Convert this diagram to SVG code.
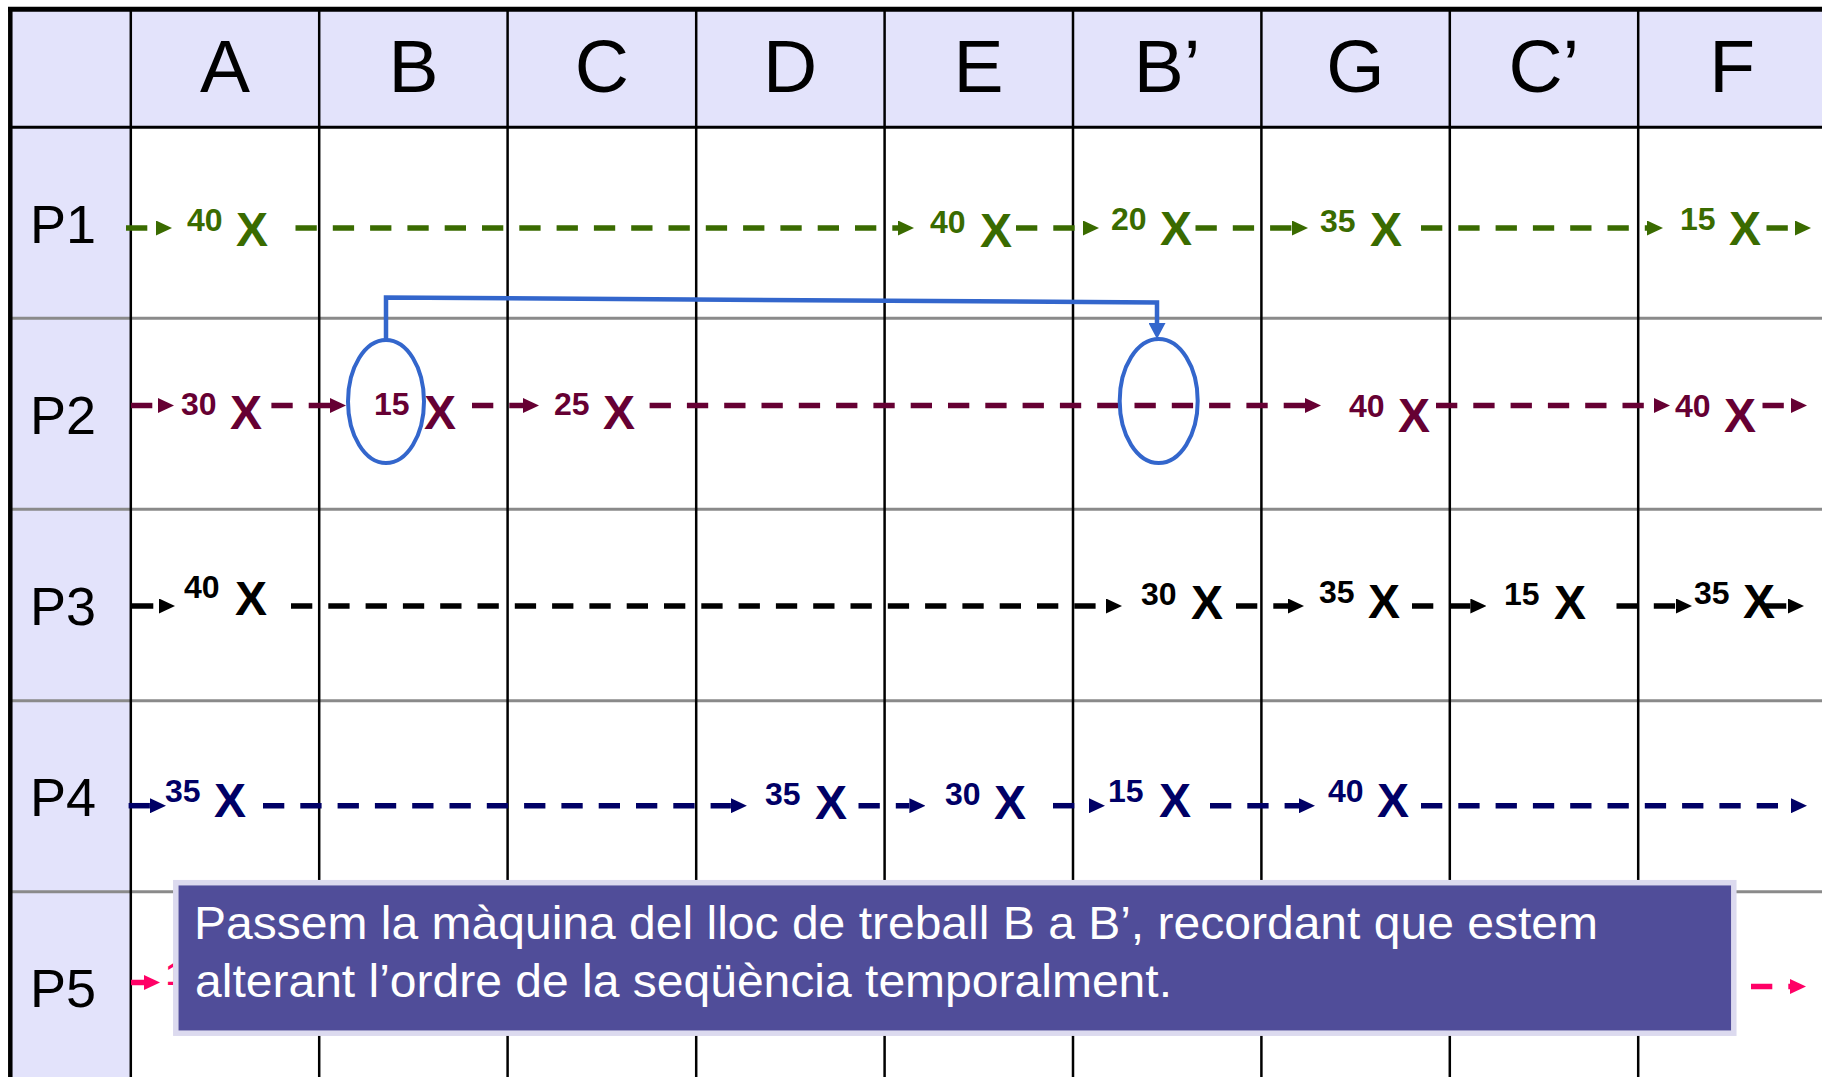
<svg xmlns="http://www.w3.org/2000/svg" width="1822" height="1077" viewBox="0 0 1822 1077">
<style>
.bgw{fill:#ffffff}
.hfill{fill:#E3E3FB}
.gv{stroke:#000;stroke-width:2.5}
.gh{stroke:#8a8a8a;stroke-width:3}
.border{stroke:#000;stroke-width:5}
.hdr{font-family:"Liberation Sans",Arial,sans-serif;font-size:75px;text-anchor:middle;fill:#000}
.plab{font-family:"Liberation Sans",Arial,sans-serif;font-size:54px;fill:#000}
.num{font-family:"Liberation Sans",Arial,sans-serif;font-weight:bold;font-size:32px}
.xx{font-family:"Liberation Sans",Arial,sans-serif;font-weight:bold;font-size:48px}
.flow{fill:none;stroke-width:5.5;stroke-dasharray:21.3 16}
.g{fill:#3A6B00;stroke:#3A6B00}
.m{fill:#660033;stroke:#660033}
.k{fill:#000;stroke:#000}
.n{fill:#000066;stroke:#000066}
.p{fill:#FF0066;stroke:#FF0066}
text.g,text.m,text.k,text.n,text.p{stroke:none}
.hl{fill:none;stroke:#3366CC;stroke-width:4}
.conn{fill:none;stroke:#3366CC;stroke-width:4.5}
.note{font-family:"Liberation Sans",Arial,sans-serif;font-size:46px;fill:#ffffff}
</style>
<defs>
<marker id="ag" markerUnits="userSpaceOnUse" markerWidth="16" markerHeight="15" viewBox="0 0 16 15" refX="0" refY="7.5" orient="auto"><path d="M0,0 L16,7.5 L0,15 z" fill="#3A6B00"/></marker>
<marker id="am" markerUnits="userSpaceOnUse" markerWidth="16" markerHeight="15" viewBox="0 0 16 15" refX="0" refY="7.5" orient="auto"><path d="M0,0 L16,7.5 L0,15 z" fill="#660033"/></marker>
<marker id="ak" markerUnits="userSpaceOnUse" markerWidth="16" markerHeight="15" viewBox="0 0 16 15" refX="0" refY="7.5" orient="auto"><path d="M0,0 L16,7.5 L0,15 z" fill="#000000"/></marker>
<marker id="an" markerUnits="userSpaceOnUse" markerWidth="16" markerHeight="15" viewBox="0 0 16 15" refX="0" refY="7.5" orient="auto"><path d="M0,0 L16,7.5 L0,15 z" fill="#000066"/></marker>
<marker id="ap" markerUnits="userSpaceOnUse" markerWidth="16" markerHeight="15" viewBox="0 0 16 15" refX="0" refY="7.5" orient="auto"><path d="M0,0 L16,7.5 L0,15 z" fill="#FF0066"/></marker>
<marker id="ab" markerUnits="userSpaceOnUse" markerWidth="16" markerHeight="17" viewBox="0 0 16 17" refX="0" refY="8.5" orient="auto"><path d="M0,0 L16,8.5 L0,17 z" fill="#3366CC"/></marker>
</defs>

<rect class="bgw" x="0" y="0" width="1822" height="1077"/>

<g id="table">
  <rect class="hfill" x="9" y="9" width="1813" height="118"/>
  <rect class="hfill" x="9" y="127" width="122" height="950"/>
  <g id="grid-rows">
    <line class="gh" x1="9" y1="318.3" x2="1822" y2="318.3"/>
    <line class="gh" x1="9" y1="509.3" x2="1822" y2="509.3"/>
    <line class="gh" x1="9" y1="700.7" x2="1822" y2="700.7"/>
    <line class="gh" x1="9" y1="891.7" x2="1822" y2="891.7"/>
  </g>
  <line x1="9" y1="127.3" x2="1822" y2="127.3" stroke="#000" stroke-width="3"/>
  <g id="grid-cols">
    <line class="gv" x1="130.8" y1="9" x2="130.8" y2="1077"/>
    <line class="gv" x1="319.2" y1="9" x2="319.2" y2="1077"/>
    <line class="gv" x1="507.6" y1="9" x2="507.6" y2="1077"/>
    <line class="gv" x1="696.2" y1="9" x2="696.2" y2="1077"/>
    <line class="gv" x1="884.6" y1="9" x2="884.6" y2="1077"/>
    <line class="gv" x1="1073" y1="9" x2="1073" y2="1077"/>
    <line class="gv" x1="1261.4" y1="9" x2="1261.4" y2="1077"/>
    <line class="gv" x1="1449.8" y1="9" x2="1449.8" y2="1077"/>
    <line class="gv" x1="1638.2" y1="9" x2="1638.2" y2="1077"/>
  </g>
  <line class="border" x1="8" y1="9.2" x2="1822" y2="9.2"/>
  <line x1="10.3" y1="7" x2="10.3" y2="1077" stroke="#000" stroke-width="4.5"/>
</g>

<g id="header">
  <text class="hdr" x="225" y="92">A</text>
  <text class="hdr" x="413.4" y="92">B</text>
  <text class="hdr" x="601.8" y="92">C</text>
  <text class="hdr" x="790.2" y="92">D</text>
  <text class="hdr" x="978.6" y="92">E</text>
  <text class="hdr" x="1167" y="92">B’</text>
  <text class="hdr" x="1355.4" y="92">G</text>
  <text class="hdr" x="1543.8" y="92">C’</text>
  <text class="hdr" x="1732.2" y="92">F</text>
</g>

<g id="row-labels">
  <text class="plab" x="30" y="243">P1</text>
  <text class="plab" x="30" y="433.5">P2</text>
  <text class="plab" x="30" y="625">P3</text>
  <text class="plab" x="30" y="816">P4</text>
  <text class="plab" x="30" y="1007">P5</text>
</g>

<g id="connectors">
  <g id="flow-P1" class="g">
    <line class="flow" x1="126" y1="228" x2="156" y2="228" marker-end="url(#ag)"/>
    <line class="flow" x1="295.5" y1="228" x2="898" y2="228" marker-end="url(#ag)"/>
    <line class="flow" x1="1016" y1="228" x2="1083" y2="228" marker-end="url(#ag)"/>
    <line class="flow" x1="1195.5" y1="228" x2="1292" y2="228" marker-end="url(#ag)"/>
    <line class="flow" x1="1421" y1="228" x2="1647" y2="228" marker-end="url(#ag)"/>
    <line class="flow" x1="1766.5" y1="228" x2="1795" y2="228" marker-end="url(#ag)"/>
  </g>
  <g id="flow-P2" class="m">
    <line class="flow" x1="131" y1="405.5" x2="158" y2="405.5" marker-end="url(#am)"/>
    <line class="flow" x1="271.4" y1="405.5" x2="330" y2="405.5" marker-end="url(#am)"/>
    <line class="flow" x1="472" y1="405.5" x2="523" y2="405.5" marker-end="url(#am)"/>
    <line class="flow" x1="649.6" y1="405.5" x2="1305" y2="405.5" marker-end="url(#am)"/>
    <line class="flow" x1="1436" y1="405.5" x2="1654" y2="405.5" marker-end="url(#am)"/>
    <line class="flow" x1="1762.5" y1="405.5" x2="1791" y2="405.5" marker-end="url(#am)"/>
  </g>
  <g id="flow-P3" class="k">
    <line class="flow" x1="132" y1="606" x2="159" y2="606" marker-end="url(#ak)"/>
    <line class="flow" x1="291" y1="606" x2="1106" y2="606" marker-end="url(#ak)"/>
    <line class="flow" x1="1236" y1="606" x2="1288" y2="606" marker-end="url(#ak)"/>
    <line class="flow" x1="1412" y1="606" x2="1470.4" y2="606" marker-end="url(#ak)"/>
    <line class="flow" x1="1616.5" y1="606" x2="1676" y2="606" marker-end="url(#ak)"/>
    <line class="flow" x1="1765" y1="606" x2="1788" y2="606" marker-end="url(#ak)"/>
  </g>
  <g id="flow-P4" class="n">
    <line class="flow" x1="128.6" y1="805.7" x2="150" y2="805.7" marker-end="url(#an)"/>
    <line class="flow" x1="263" y1="805.7" x2="730.9" y2="805.7" marker-end="url(#an)"/>
    <line class="flow" x1="858.5" y1="805.7" x2="909.4" y2="805.7" marker-end="url(#an)"/>
    <line class="flow" x1="1053" y1="805.7" x2="1089" y2="805.7" marker-end="url(#an)"/>
    <line class="flow" x1="1210" y1="805.7" x2="1299" y2="805.7" marker-end="url(#an)"/>
    <line class="flow" x1="1421" y1="805.7" x2="1791" y2="805.7" marker-end="url(#an)"/>
  </g>
  <g id="flow-P5" class="p">
    <line class="flow" x1="131" y1="982.5" x2="144" y2="982.5" marker-end="url(#ap)"/>
    <line class="flow" x1="1751" y1="986.5" x2="1790" y2="986.5" marker-end="url(#ap)"/>
  </g>
  <path id="move-B-to-Bprime" class="conn" d="M386,340 L386,297.5 L1157,302.5 L1157,323" marker-end="url(#ab)"/>
</g>

<g id="P1-ops" class="g">
  <text class="num g" x="187" y="231">40</text><text class="xx g" x="236" y="246">X</text>
  <text class="num g" x="930" y="233">40</text><text class="xx g" x="980" y="247">X</text>
  <text class="num g" x="1111" y="230">20</text><text class="xx g" x="1160" y="245">X</text>
  <text class="num g" x="1320" y="232">35</text><text class="xx g" x="1370" y="246">X</text>
  <text class="num g" x="1680" y="230">15</text><text class="xx g" x="1729" y="245">X</text>
</g>
<g id="P2-ops" class="m">
  <text class="num m" x="181" y="415">30</text><text class="xx m" x="230" y="429">X</text>
  <text class="num m" x="374" y="415">15</text><text class="xx m" x="424" y="429">X</text>
  <text class="num m" x="554" y="415">25</text><text class="xx m" x="603" y="429">X</text>
  <text class="num m" x="1349" y="417">40</text><text class="xx m" x="1398" y="432">X</text>
  <text class="num m" x="1675" y="417">40</text><text class="xx m" x="1724" y="432">X</text>
</g>
<g id="P3-ops" class="k">
  <text class="num k" x="184" y="598">40</text><text class="xx k" x="235" y="615">X</text>
  <text class="num k" x="1141" y="605">30</text><text class="xx k" x="1191" y="619">X</text>
  <text class="num k" x="1319" y="603">35</text><text class="xx k" x="1368" y="618">X</text>
  <text class="num k" x="1504" y="605">15</text><text class="xx k" x="1554" y="619">X</text>
  <text class="num k" x="1694" y="604">35</text><text class="xx k" x="1743" y="618">X</text>
</g>
<g id="P4-ops" class="n">
  <text class="num n" x="165" y="801.5">35</text><text class="xx n" x="214" y="816.5">X</text>
  <text class="num n" x="765" y="805">35</text><text class="xx n" x="815" y="819">X</text>
  <text class="num n" x="945" y="805">30</text><text class="xx n" x="994" y="819">X</text>
  <text class="num n" x="1108" y="801.5">15</text><text class="xx n" x="1159" y="816.5">X</text>
  <text class="num n" x="1328" y="801.5">40</text><text class="xx n" x="1377" y="816.5">X</text>
</g>
<g id="P5-ops" class="p">
  <text class="num p" x="166" y="985">1</text>
</g>

<g id="highlight-B">
  <ellipse class="hl" cx="386" cy="401.5" rx="38" ry="61.5"/>
</g>
<g id="highlight-Bprime">
  <ellipse class="hl" cx="1158.7" cy="401" rx="39" ry="62"/>
</g>

<g id="callout">
  <rect x="175.8" y="882.7" width="1558" height="150.5" fill="#504D99" stroke="#DCDAEF" stroke-width="5.5"/>
  <text class="note" x="194" y="938.5" textLength="1404" lengthAdjust="spacingAndGlyphs">Passem la màquina del lloc de treball B a B’, recordant que estem</text>
  <text class="note" x="195" y="996.7" textLength="977" lengthAdjust="spacingAndGlyphs">alterant l’ordre de la seqüència temporalment.</text>
</g>
</svg>
